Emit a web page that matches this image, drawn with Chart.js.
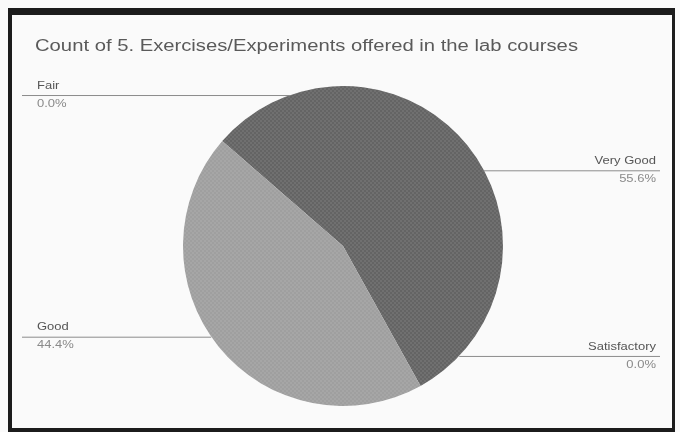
<!DOCTYPE html>
<html>
<head>
<meta charset="utf-8">
<script src="https://cdn.jsdelivr.net/npm/chart.js@4"></script>
<style>
  body { margin: 0; background: #fafafa; }
  .wrap { position: relative; width: 680px; height: 432px; }
  .frame {
    position: absolute; left: 8px; top: 8px; width: 660px; height: 413px;
    border-style: solid; border-color: #1c1c1c;
    border-width: 7px 3px 4px 4px; pointer-events: none;
  }
</style>
</head>
<body>
<div class="wrap">
  <canvas id="pie" width="680" height="432"></canvas>
  <div class="frame"></div>
</div>
<script>
const title = "Count of 5. Exercises/Experiments offered in the lab courses";
const categories = ["Fair", "Very Good", "Satisfactory", "Good"];
const counts = [0, 5, 0, 4];
const percentLabels = ["0.0%", "55.6%", "0.0%", "44.4%"];
const sliceColors = ["#8a8a8a", "#646464", "#7a7a7a", "#9f9f9f"];

// small dithered fill, like the scanned print
function dither(base) {
  const c = document.createElement("canvas");
  c.width = 4; c.height = 4;
  const g = c.getContext("2d");
  g.fillStyle = base;
  g.fillRect(0, 0, 4, 4);
  g.fillStyle = "rgba(255,255,255,0.08)";
  g.fillRect(0, 0, 2, 2);
  g.fillRect(2, 2, 2, 2);
  return g.createPattern(c, "repeat");
}

const labelShift = [-46, 25, -30, -10];

// the scan is stretched sideways, so text is drawn wider than its height
function wideText(ctx, text, x, y, sx) {
  ctx.save();
  ctx.translate(x, y);
  ctx.scale(sx, 1);
  ctx.fillText(text, 0, 0);
  ctx.restore();
}

const sideLabels = {
  id: "sideLabels",
  afterDraw(chart) {
    const ctx = chart.ctx;
    const arcs = chart.getDatasetMeta(0).data;
    ctx.save();
    ctx.fillStyle = "#5a5a5a";
    ctx.font = "16px Arial, 'Liberation Sans', sans-serif";
    ctx.textBaseline = "middle";
    const tw = ctx.measureText(title).width;
    wideText(ctx, title, 35, 47, 543 / tw);
    arcs.forEach((arc, i) => {
      const p = arc.getProps(["x", "y", "startAngle", "endAngle", "outerRadius"], true);
      const mid = (p.startAngle + p.endAngle) / 2;
      const r = p.outerRadius;
      const left = Math.cos(mid) < 0;
      let y = p.y + Math.sin(mid) * r + labelShift[i];
      const dy = Math.min(Math.abs(y - p.y), r);
      const edge = Math.sqrt(r * r - dy * dy);
      const xEdge = left ? p.x - edge : p.x + edge;
      ctx.strokeStyle = "#8c8c8c";
      ctx.lineWidth = 1;
      ctx.beginPath();
      if (left) { ctx.moveTo(22, y + 0.5); ctx.lineTo(xEdge, y + 0.5); }
      else { ctx.moveTo(xEdge, y + 0.5); ctx.lineTo(660, y + 0.5); }
      ctx.stroke();
      ctx.font = "10px Arial, 'Liberation Sans', sans-serif";
      ctx.textAlign = left ? "left" : "right";
      const tx = left ? 37 : 656;
      ctx.fillStyle = "#555";
      wideText(ctx, categories[i], tx, y - 9, 1.3);
      ctx.fillStyle = "#8a8a8a";
      wideText(ctx, percentLabels[i], tx, y + 9, 1.3);
    });
    ctx.restore();
  }
};

new Chart("pie", {
  type: "pie",
  data: {
    labels: categories,
    datasets: [{
      data: counts,
      backgroundColor: sliceColors.map(dither),
      borderWidth: 0
    }]
  },
  options: {
    responsive: false,
    animation: false,
    rotation: -49,
    layout: { padding: { top: 86, bottom: 26, left: 183, right: 177 } },
    plugins: {
      legend: { display: false },
      tooltip: { enabled: false }
    }
  },
  plugins: [sideLabels]
});
</script>
</body>
</html>
